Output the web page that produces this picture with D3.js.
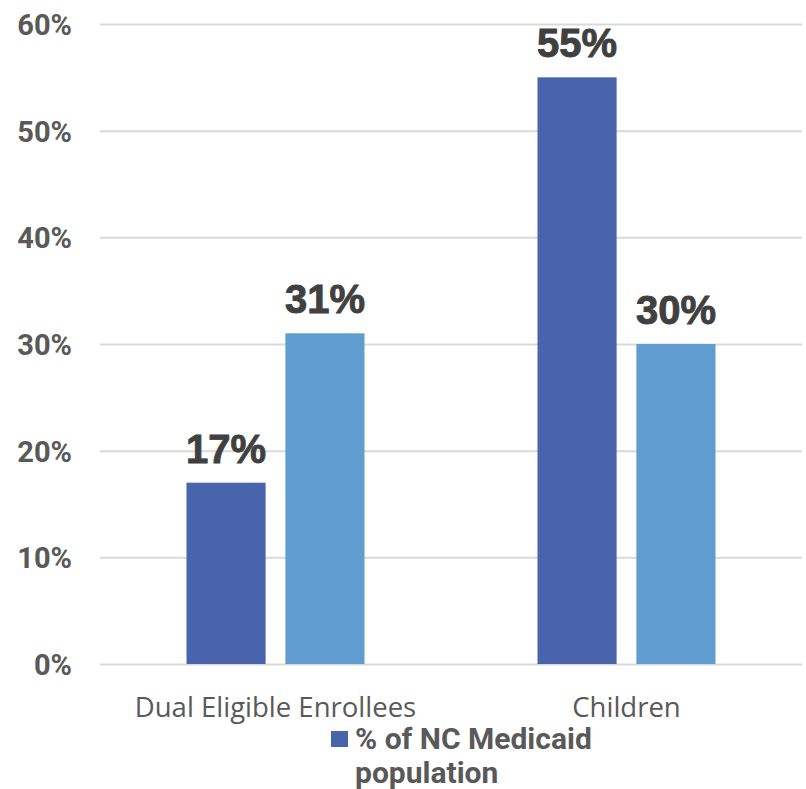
<!DOCTYPE html>
<html>
<head>
<meta charset="utf-8">
<script src="https://cdn.jsdelivr.net/npm/d3@7"></script>
<style>
  html, body { margin: 0; padding: 0; background: #fff; }
  svg { display: block; }
</style>
</head>
<body>
<svg id="chart" width="806" height="789"></svg>
<script>
// Share of NC Medicaid population vs. share of spending, by group
const categories = ["Dual Eligible Enrollees", "Children"];
const seriesNames = ["% of NC Medicaid population", "% of NC Medicaid spending"];
const populationShare = [17, 55];
const spendingShare = [31, 30];
const yTicks = [0, 10, 20, 30, 40, 50, 60];
const legendSeries = ["% of NC Medicaid population"];

const colors = ["#4864ac", "#5f9dd1"];
const values = [populationShare, spendingShare];

const svg = d3.select("#chart");

const x0 = d3.scaleBand().domain(categories).range([100, 802]).paddingInner(0).paddingOuter(0);
const groupPad = (x0.bandwidth() - 178) / 2;
const x1 = d3.scaleBand().domain(seriesNames)
  .range([groupPad, x0.bandwidth() - groupPad]).paddingInner(0.2).paddingOuter(0);
const y = d3.scaleLinear().domain([0, 60]).range([664, 24]);

// gridlines
svg.append("g")
  .selectAll("line")
  .data(yTicks)
  .join("line")
  .attr("x1", 100).attr("x2", 802)
  .attr("y1", d => y(d) + 0.5).attr("y2", d => y(d) + 0.5)
  .attr("stroke", "#d9d9d9").attr("stroke-width", 2);

// y-axis tick labels
const yAxis = d3.axisLeft(y).tickValues(yTicks).tickFormat(d => d + "%").tickSize(0).tickPadding(0);
const yg = svg.append("g").attr("transform", "translate(72,0)").call(yAxis);
yg.select(".domain").remove();
yg.selectAll("text")
  .attr("fill", "#595959")
  .attr("font-family", "'Liberation Sans Narrow', 'Roboto', sans-serif")
  .attr("font-weight", "bold")
  .attr("font-size", 29)
  .attr("dy", "0.36em");

// bars
const groups = svg.append("g").selectAll("g")
  .data(categories)
  .join("g")
  .attr("transform", d => `translate(${x0(d)},0)`);

groups.selectAll("rect")
  .data((c, i) => seriesNames.map((s, k) => ({ s, k, v: values[k][i] })))
  .join("rect")
  .attr("x", d => x1(d.s))
  .attr("width", x1.bandwidth())
  .attr("y", d => y(d.v))
  .attr("height", d => y(0) - y(d.v))
  .attr("fill", d => colors[d.k]);

// value labels
groups.selectAll("text.val")
  .data((c, i) => seriesNames.map((s, k) => ({ s, k, v: values[k][i] })))
  .join("text")
  .attr("class", "val")
  .attr("x", d => x1(d.s) + x1.bandwidth() / 2)
  .attr("y", d => y(d.v) - 20)
  .attr("text-anchor", "middle")
  .attr("fill", "#404040")
  .attr("stroke", "#404040")
  .attr("stroke-width", 0.9)
  .attr("font-family", "'Liberation Sans', Arial, sans-serif")
  .attr("font-weight", "bold")
  .attr("font-size", 40)
  .text(d => d.v + "%");

// category labels
svg.append("g").selectAll("text")
  .data(categories)
  .join("text")
  .attr("x", d => x0(d) + x0.bandwidth() / 2)
  .attr("y", 717)
  .attr("text-anchor", "middle")
  .attr("fill", "#595959")
  .attr("font-family", "'Open Sans', sans-serif")
  .attr("font-size", 27.5)
  .text(d => d);

// legend
const lg = svg.append("g");
legendSeries.forEach((name, i) => {
  lg.append("rect")
    .attr("x", 331).attr("y", 731)
    .attr("width", 17).attr("height", 16)
    .attr("fill", colors[seriesNames.indexOf(name)]);
  const words = name.split(" ");
  const lines = [words.slice(0, 4).join(" "), words.slice(4).join(" ")];
  lg.selectAll("text.leg")
    .data(lines)
    .join("text")
    .attr("class", "leg")
    .attr("x", 355)
    .attr("y", (d, j) => 749 + j * 34)
    .attr("fill", "#595959")
    .attr("font-family", "'Liberation Sans Narrow', 'Roboto', sans-serif")
    .attr("font-weight", "bold")
    .attr("font-size", 30)
    .text(d => d);
});
</script>
</body>
</html>
